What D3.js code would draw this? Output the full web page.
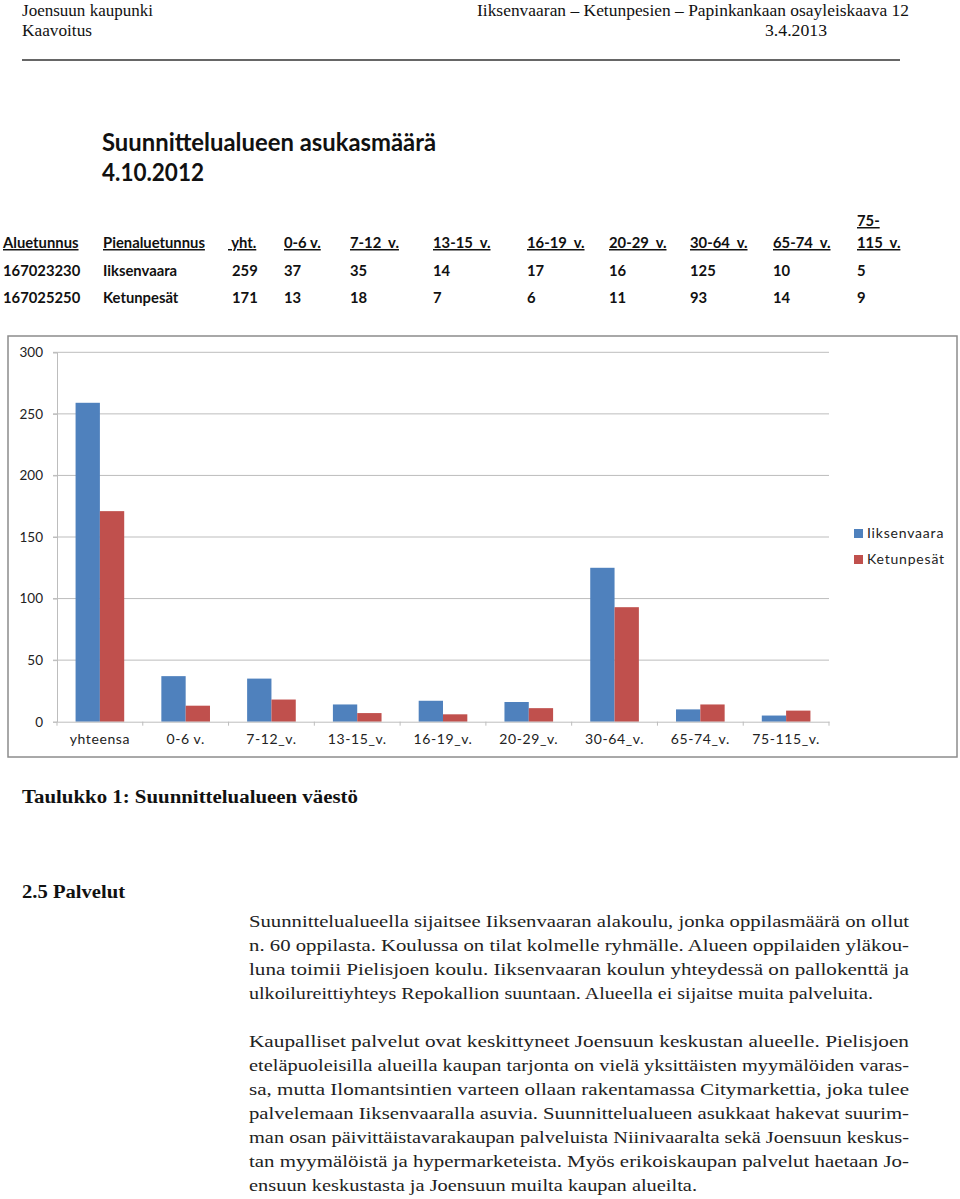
<!DOCTYPE html>
<html><head><meta charset="utf-8">
<script src="https://cdn.jsdelivr.net/npm/d3@7"></script>
<style>
html,body{margin:0;padding:0;background:#fff;}
svg{display:block;}
</style></head>
<body>
<svg id="page" width="960" height="1199"></svg>
<script>
// ---- data ----
const categories = ["yhteensa","0-6 v.","7-12_v.","13-15_v.","16-19_v.","20-29_v.","30-64_v.","65-74_v.","75-115_v."];
const tableHeaders = [" yht.","0-6 v.","7-12  v.","13-15  v.","16-19  v.","20-29  v.","30-64  v.","65-74  v.","115  v."];
const seriesNames = ["Iiksenvaara","Ketunpesät"];
const areaCodes = ["167023230","167025250"];
const iiksenvaara = [259,37,35,14,17,16,125,10,5];
const ketunpesat = [171,13,18,7,6,11,93,14,9];
const yTicks = [0,50,100,150,200,250,300];
const colors = ["#4f81bd","#c0504d"];

const para1 = [
 "Suunnittelualueella sijaitsee Iiksenvaaran alakoulu, jonka oppilasmäärä on ollut",
 "n. 60 oppilasta. Koulussa on tilat kolmelle ryhmälle. Alueen oppilaiden yläkou-",
 "luna toimii Pielisjoen koulu. Iiksenvaaran koulun yhteydessä on pallokenttä ja",
 "ulkoilureittiyhteys Repokallion suuntaan. Alueella ei sijaitse muita palveluita."
];
const para2 = [
 "Kaupalliset palvelut ovat keskittyneet Joensuun keskustan alueelle. Pielisjoen",
 "eteläpuoleisilla alueilla kaupan tarjonta on vielä yksittäisten myymälöiden varas-",
 "sa, mutta Ilomantsintien varteen ollaan rakentamassa Citymarkettia, joka tulee",
 "palvelemaan Iiksenvaaralla asuvia. Suunnittelualueen asukkaat hakevat suurim-",
 "man osan päivittäistavarakaupan palveluista Niinivaaralta sekä Joensuun keskus-",
 "tan myymälöistä ja hypermarketeista. Myös erikoiskaupan palvelut haetaan Jo-",
 "ensuun keskustasta ja Joensuun muilta kaupan alueilta."
];

const svg = d3.select("#page");
const serif = "'Liberation Serif','Times New Roman',serif";
const sans = "Lato,'Open Sans',sans-serif";

// ---- page header ----
const hdr = svg.append("g").attr("font-family", serif).attr("font-size", 16.5).attr("fill", "#111");
hdr.append("text").attr("x", 22).attr("y", 16).attr("textLength", 131).attr("lengthAdjust","spacingAndGlyphs").text("Joensuun kaupunki");
hdr.append("text").attr("x", 22).attr("y", 36).attr("textLength", 70).attr("lengthAdjust","spacingAndGlyphs").text("Kaavoitus");
hdr.append("text").attr("x", 477).attr("y", 16).attr("textLength", 432).attr("lengthAdjust","spacingAndGlyphs").text("Iiksenvaaran – Ketunpesien – Papinkankaan osayleiskaava  12");
hdr.append("text").attr("x", 765).attr("y", 36).attr("textLength", 62).attr("lengthAdjust","spacingAndGlyphs").text("3.4.2013");
svg.append("line").attr("x1", 22).attr("x2", 900).attr("y1", 60).attr("y2", 60).attr("stroke", "#666").attr("stroke-width", 2);

// ---- title ----
const ttl = svg.append("g").attr("font-family", sans).attr("font-weight", 700).attr("font-size", 24).attr("fill", "#111");
ttl.append("text").attr("x", 102).attr("y", 151).attr("textLength", 334).attr("lengthAdjust","spacingAndGlyphs").text("Suunnittelualueen asukasmäärä");
ttl.append("text").attr("x", 102).attr("y", 181).attr("textLength", 102).attr("lengthAdjust","spacingAndGlyphs").text("4.10.2012");

// ---- table ----
const colX = [232,284,350,433,527,609,690,773,857];
const tb = svg.append("g").attr("font-family", sans).attr("font-weight", 700).attr("font-size", 14.8).attr("fill", "#111");
tb.append("text").attr("x", 3).attr("y", 248).attr("text-decoration","underline").text("Aluetunnus");
tb.append("text").attr("x", 103).attr("y", 248).attr("text-decoration","underline").text("Pienaluetunnus");
tb.selectAll("text.h").data(tableHeaders).join("text").attr("class","h")
  .attr("x", (d,i) => colX[i] - (i===0 ? 4 : 0)).attr("y", 248)
  .attr("text-decoration","underline").style("white-space","pre").text(d => d);
tb.append("text").attr("x", colX[8]).attr("y", 226).attr("text-decoration","underline").text("75-");
const rows = [[areaCodes[0], seriesNames[0], iiksenvaara],[areaCodes[1], seriesNames[1], ketunpesat]];
rows.forEach((r, ri) => {
  const yy = 276 + ri * 27;
  tb.append("text").attr("x", 3).attr("y", yy).text(r[0]);
  tb.append("text").attr("x", 103).attr("y", yy).text(r[1]);
  tb.selectAll("text.v" + ri).data(r[2]).join("text").attr("class","v"+ri)
    .attr("x", (d,i) => colX[i]).attr("y", yy).text(d => d);
});

// ---- chart ----
svg.append("rect").attr("x", 8).attr("y", 336).attr("width", 949).attr("height", 421)
  .attr("fill", "#fff").attr("stroke", "#8c8c8c").attr("stroke-width", 1.5);

const pL = 57, pR = 829, pT = 352.3, pB = 721.7;
const y = d3.scaleLinear().domain([0,300]).range([pB, pT]);
const x = d3.scaleBand().domain(categories).range([pL, pR]).paddingInner(0.433).paddingOuter(0.2165);
const xs = d3.scaleBand().domain(seriesNames).range([0, x.bandwidth()]);
const stepW = x.step();

const chart = svg.append("g").attr("font-family", sans).attr("font-size", 14).attr("fill", "#222");
// gridlines
chart.append("g").selectAll("line").data(yTicks.filter(t => t > 0)).join("line")
  .attr("x1", pL - 4).attr("x2", pR).attr("y1", d => y(d)).attr("y2", d => y(d))
  .attr("stroke", "#bdbdbd").attr("stroke-width", 1);
// y axis
const yAxis = chart.append("g").attr("transform", `translate(${pL},0)`)
  .call(d3.axisLeft(y).tickValues(yTicks).tickSize(4).tickPadding(10));
yAxis.select(".domain").attr("stroke", "#bdbdbd");
yAxis.selectAll(".tick line").attr("stroke", "#bdbdbd");
yAxis.selectAll(".tick text").attr("font-family", sans).attr("font-size", 13.5).attr("fill", "#222");

// bars
const data = categories.map((c,i) => ({cat: c, vals: [iiksenvaara[i], ketunpesat[i]]}));
const grp = chart.append("g").selectAll("g").data(data).join("g")
  .attr("transform", d => `translate(${x(d.cat)},0)`);
grp.selectAll("rect").data(d => d.vals.map((v,k) => ({name: seriesNames[k], v, k}))).join("rect")
  .attr("x", d => xs(d.name)).attr("width", xs.bandwidth())
  .attr("y", d => y(d.v)).attr("height", d => y(0) - y(d.v))
  .attr("fill", d => colors[d.k]);

// x axis
const xAxisG = chart.append("g").attr("transform", `translate(0,${pB})`)
  .call(d3.axisBottom(x).tickSize(0).tickPadding(12));
xAxisG.select(".domain").attr("stroke", "#bdbdbd");
xAxisG.selectAll(".tick text").attr("font-family", sans).attr("font-size", 14).attr("letter-spacing", 0.6).attr("fill", "#222");
// boundary ticks
xAxisG.selectAll("line.bt").data(d3.range(categories.length + 1)).join("line").attr("class","bt")
  .attr("x1", i => pL + i * stepW).attr("x2", i => pL + i * stepW)
  .attr("y1", 0).attr("y2", 4).attr("stroke", "#bdbdbd");

// legend
const lg = chart.append("g");
seriesNames.forEach((n, i) => {
  const ly = 529 + i * 26;
  lg.append("rect").attr("x", 854).attr("y", ly).attr("width", 9).attr("height", 9).attr("fill", colors[i]);
  lg.append("text").attr("x", 867).attr("y", ly + 9).attr("font-size", 14).attr("letter-spacing", 0.8).attr("fill", "#222").text(n);
});

// ---- caption + section ----
svg.append("text").attr("x", 22).attr("y", 803).attr("font-family", serif).attr("font-weight", 700)
  .attr("font-size", 18).attr("fill", "#111").attr("textLength", 336).attr("lengthAdjust","spacingAndGlyphs")
  .text("Taulukko 1: Suunnittelualueen väestö");
svg.append("text").attr("x", 22).attr("y", 898).attr("font-family", serif).attr("font-weight", 700)
  .attr("font-size", 18).attr("fill", "#111").attr("textLength", 103).attr("lengthAdjust","spacingAndGlyphs")
  .text("2.5 Palvelut");

// ---- body text ----
function para(lines, y0, lastWidth) {
  const g = svg.append("g").attr("font-family", serif).attr("font-size", 17).attr("fill", "#222");
  lines.forEach((t, i) => {
    const w = i === lines.length - 1 ? lastWidth : 660;
    g.append("text").attr("x", 249).attr("y", y0 + i * 24)
      .attr("textLength", w).attr("lengthAdjust", "spacingAndGlyphs").text(t);
  });
}
para(para1, 927, 624);
para(para2, 1047, 448);
</script>
</body></html>
